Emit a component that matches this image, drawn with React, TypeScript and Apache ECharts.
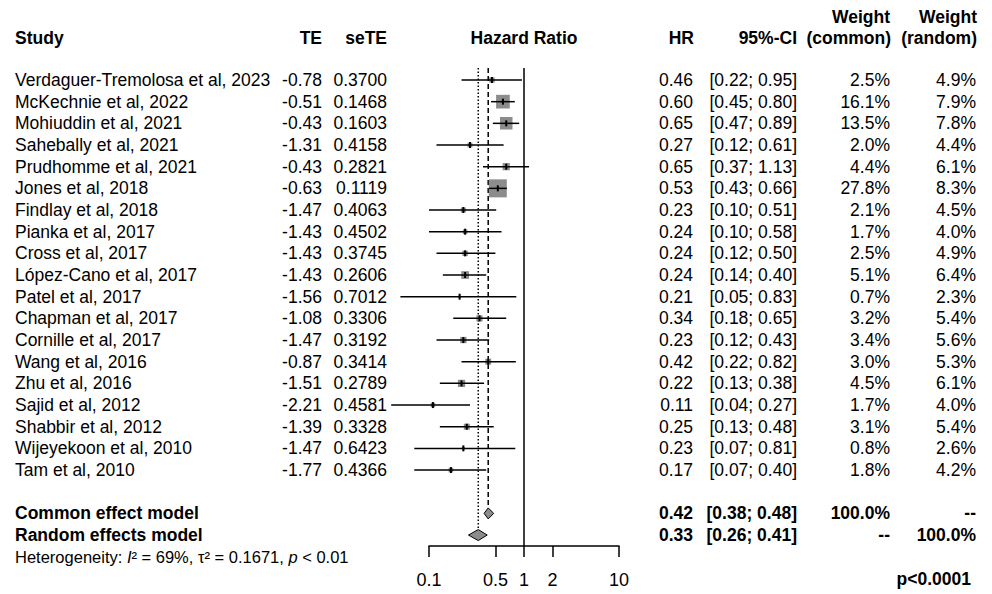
import React, { useEffect, useRef } from 'react';
import * as echarts from 'echarts';

const studies = [
  'Verdaguer-Tremolosa et al, 2023',
  'McKechnie et al, 2022',
  'Mohiuddin et al, 2021',
  'Sahebally et al, 2021',
  'Prudhomme et al, 2021',
  'Jones et al, 2018',
  'Findlay et al, 2018',
  'Pianka et al, 2017',
  'Cross et al, 2017',
  'López-Cano et al, 2017',
  'Patel et al, 2017',
  'Chapman et al, 2017',
  'Cornille et al, 2017',
  'Wang et al, 2016',
  'Zhu et al, 2016',
  'Sajid et al, 2012',
  'Shabbir et al, 2012',
  'Wijeyekoon et al, 2010',
  'Tam et al, 2010',
];
const teValues = ['-0.78', '-0.51', '-0.43', '-1.31', '-0.43', '-0.63', '-1.47', '-1.43', '-1.43', '-1.43', '-1.56', '-1.08', '-1.47', '-0.87', '-1.51', '-2.21', '-1.39', '-1.47', '-1.77'];
const seTEValues = ['0.3700', '0.1468', '0.1603', '0.4158', '0.2821', '0.1119', '0.4063', '0.4502', '0.3745', '0.2606', '0.7012', '0.3306', '0.3192', '0.3414', '0.2789', '0.4581', '0.3328', '0.6423', '0.4366'];
const hrValues = [0.46, 0.6, 0.65, 0.27, 0.65, 0.53, 0.23, 0.24, 0.24, 0.24, 0.21, 0.34, 0.23, 0.42, 0.22, 0.11, 0.25, 0.23, 0.17];
const ciLower = [0.22, 0.45, 0.47, 0.12, 0.37, 0.43, 0.1, 0.1, 0.12, 0.14, 0.05, 0.18, 0.12, 0.22, 0.13, 0.04, 0.13, 0.07, 0.07];
const ciUpper = [0.95, 0.8, 0.89, 0.61, 1.13, 0.66, 0.51, 0.58, 0.5, 0.4, 0.83, 0.65, 0.43, 0.82, 0.38, 0.27, 0.48, 0.81, 0.4];
const weightCommon = [2.5, 16.1, 13.5, 2.0, 4.4, 27.8, 2.1, 1.7, 2.5, 5.1, 0.7, 3.2, 3.4, 3.0, 4.5, 1.7, 3.1, 0.8, 1.8];
const weightRandom = [4.9, 7.9, 7.8, 4.4, 6.1, 8.3, 4.5, 4.0, 4.9, 6.4, 2.3, 5.4, 5.6, 5.3, 6.1, 4.0, 5.4, 2.6, 4.2];

const summaryNames = ['Common effect model', 'Random effects model'];
const summaryHR = [0.42, 0.33];
const summaryLower = [0.38, 0.26];
const summaryUpper = [0.48, 0.41];
const summaryWeightCommon = ['100.0%', '--'];
const summaryWeightRandom = ['--', '100.0%'];

const tickValues = [0.1, 0.5, 1, 2, 10];
const tickLabels = ['0.1', '0.5', '1', '2', '10'];

const FONT_FAMILY = "'Liberation Sans', Arial, Helvetica, sans-serif";
const FS = 17.5;
const HET_FS = 16.5;
const ROW_TOP = -0.554;
const ROW_BOTTOM = 21.505;
const SUMMARY_ROW0 = 20;

type Cell = { text: string; x: number | 'hr'; align: 'left' | 'right' | 'center'; bold?: boolean; rich?: boolean; size?: number };
type TableRow = { row: number; cells: Cell[] };

const fmt2 = (v: number) => v.toFixed(2);
const fmtCI = (lo: number, hi: number) => `[${lo.toFixed(2)}; ${hi.toFixed(2)}]`;

function buildTable(): TableRow[] {
  const rows: TableRow[] = [];
  rows.push({
    row: -2.92,
    cells: [
      { text: 'Weight', x: 890, align: 'right', bold: true },
      { text: 'Weight', x: 977, align: 'right', bold: true },
    ],
  });
  rows.push({
    row: -1.93,
    cells: [
      { text: 'Study', x: 15, align: 'left', bold: true },
      { text: 'TE', x: 322, align: 'right', bold: true },
      { text: 'seTE', x: 387, align: 'right', bold: true },
      { text: 'Hazard Ratio', x: 'hr', align: 'center', bold: true },
      { text: 'HR', x: 694, align: 'right', bold: true },
      { text: '95%-CI', x: 797, align: 'right', bold: true },
      { text: '(common)', x: 891, align: 'right', bold: true },
      { text: '(random)', x: 977, align: 'right', bold: true },
    ],
  });
  studies.forEach((s, i) => {
    rows.push({
      row: i,
      cells: [
        { text: s, x: 15, align: 'left' },
        { text: teValues[i], x: 322, align: 'right' },
        { text: seTEValues[i], x: 387, align: 'right' },
        { text: fmt2(hrValues[i]), x: 693, align: 'right' },
        { text: fmtCI(ciLower[i], ciUpper[i]), x: 797, align: 'right' },
        { text: weightCommon[i].toFixed(1) + '%', x: 890, align: 'right' },
        { text: weightRandom[i].toFixed(1) + '%', x: 976, align: 'right' },
      ],
    });
  });
  summaryNames.forEach((s, i) => {
    rows.push({
      row: SUMMARY_ROW0 + i,
      cells: [
        { text: s, x: 15, align: 'left', bold: true },
        { text: fmt2(summaryHR[i]), x: 693, align: 'right', bold: true },
        { text: fmtCI(summaryLower[i], summaryUpper[i]), x: 797, align: 'right', bold: true },
        { text: summaryWeightCommon[i], x: 890, align: 'right', bold: true },
        { text: summaryWeightRandom[i], x: 976, align: 'right', bold: true },
      ],
    });
  });
  rows.push({
    row: 22,
    cells: [
      {
        text: '{n|Heterogeneity: }{i|I}{n|² = 69%, τ² = 0.1671, }{i|p}{n| < 0.01}',
        x: 15,
        align: 'left',
        rich: true,
        size: HET_FS,
      },
    ],
  });
  rows.push({
    row: 23.05,
    cells: [{ text: 'p<0.0001', x: 971, align: 'right', bold: true }],
  });
  return rows;
}

export default function App() {
  const ref = useRef<HTMLDivElement>(null);
  useEffect(() => {
    if (!ref.current) return;
    const chart = echarts.init(ref.current, undefined, { renderer: 'svg' });
    const table = buildTable();
    const maxW = Math.max(...weightCommon);

    const option: any = {
      animation: false,
      backgroundColor: '#ffffff',
      grid: { left: 429, right: 373, top: 68, bottom: 48, show: false },
      xAxis: {
        type: 'log',
        logBase: 10,
        min: 0.1,
        max: 10,
        position: 'bottom',
        splitLine: { show: false },
        axisLine: { show: true, onZero: false, lineStyle: { color: '#000', width: 1.5 } },
        axisTick: {
          show: true,
          customValues: tickValues,
          length: 11,
          lineStyle: { color: '#000', width: 1.5 },
        },
        axisLabel: {
          show: true,
          customValues: tickValues,
          margin: 25,
          color: '#000',
          fontSize: 18,
          fontFamily: FONT_FAMILY,
          formatter: (v: number) => {
            let best = 0;
            tickValues.forEach((t, i) => {
              if (Math.abs(Math.log(t) - Math.log(v)) < Math.abs(Math.log(tickValues[best]) - Math.log(v))) best = i;
            });
            return tickLabels[best];
          },
        },
      },
      yAxis: {
        type: 'value',
        inverse: true,
        min: ROW_TOP,
        max: ROW_BOTTOM,
        show: false,
      },
      series: [
        {
          type: 'custom',
          name: 'reference lines',
          clip: false,
          silent: true,
          data: [[1, 0]],
          renderItem: (params: any, api: any) => {
            const top = api.coord([1, ROW_TOP])[1];
            const bottom = api.coord([1, ROW_BOTTOM])[1];
            const x1 = api.coord([1, 0])[0];
            const xc = api.coord([summaryHR[0], SUMMARY_ROW0]);
            const xr = api.coord([summaryHR[1], SUMMARY_ROW0 + 1]);
            return {
              type: 'group',
              children: [
                { type: 'line', shape: { x1, y1: top, x2: x1, y2: bottom }, style: { stroke: '#000', lineWidth: 1.5 } },
                { type: 'line', shape: { x1: xc[0], y1: top, x2: xc[0], y2: xc[1] - 6 }, style: { stroke: '#000', lineWidth: 1.5, lineDash: [5, 3] } },
                { type: 'line', shape: { x1: xr[0], y1: top, x2: xr[0], y2: xr[1] - 6 }, style: { stroke: '#000', lineWidth: 1.5, lineDash: [1.5, 2] } },
              ],
            };
          },
        },
        {
          type: 'custom',
          name: 'studies',
          clip: false,
          silent: true,
          encode: { x: [1, 2, 3], y: 0 },
          data: studies.map((_, i) => [i, hrValues[i], ciLower[i], ciUpper[i], weightCommon[i]]),
          renderItem: (params: any, api: any) => {
            const row = api.value(0);
            const est = api.value(1);
            const lo = api.value(2);
            const hi = api.value(3);
            const w = api.value(4);
            const [xe, y] = api.coord([est, row]);
            const xl = api.coord([lo, row])[0];
            const xh = api.coord([hi, row])[0];
            const side = 18 * Math.sqrt(w / maxW);
            return {
              type: 'group',
              children: [
                { type: 'rect', shape: { x: xe - side / 2, y: y - side / 2, width: side, height: side }, style: { fill: '#8c8c8c' } },
                { type: 'line', shape: { x1: xl, y1: y, x2: xh, y2: y }, style: { stroke: '#000', lineWidth: 1.5 } },
                { type: 'line', shape: { x1: xe, y1: y - 3, x2: xe, y2: y + 3 }, style: { stroke: '#000', lineWidth: 2 } },
              ],
            };
          },
        },
        {
          type: 'custom',
          name: 'summaries',
          clip: false,
          silent: true,
          encode: { x: [1, 2, 3], y: 0 },
          data: summaryNames.map((_, i) => [SUMMARY_ROW0 + i, summaryHR[i], summaryLower[i], summaryUpper[i]]),
          renderItem: (params: any, api: any) => {
            const row = api.value(0);
            const [xe, y] = api.coord([api.value(1), row]);
            const xl = api.coord([api.value(2), row])[0];
            const xh = api.coord([api.value(3), row])[0];
            const h = 5.5;
            return {
              type: 'polygon',
              shape: { points: [[xl, y], [xe, y - h], [xh, y], [xe, y + h]] },
              style: { fill: '#8c8c8c', stroke: '#000', lineWidth: 1 },
            };
          },
        },
        {
          type: 'custom',
          name: 'table',
          clip: false,
          silent: true,
          encode: { x: 0, y: 1 },
          data: table.map((r) => [1, r.row]),
          renderItem: (params: any, api: any) => {
            const tr = table[params.dataIndex];
            const [xhr, y] = api.coord([1, api.value(1)]);
            return {
              type: 'group',
              children: tr.cells.map((c) => {
                const size = c.size || FS;
                const font = `${c.bold ? 'bold ' : ''}${size}px ${FONT_FAMILY}`;
                const style: any = {
                  text: c.text,
                  x: c.x === 'hr' ? xhr : c.x,
                  y,
                  fill: '#000',
                  font,
                  fontSize: size,
                  fontFamily: FONT_FAMILY,
                  fontWeight: c.bold ? 'bold' : 'normal',
                  align: c.align,
                  verticalAlign: 'middle',
                  textAlign: c.align,
                  textVerticalAlign: 'middle',
                };
                if (c.rich) {
                  style.rich = {
                    n: { font: `${size}px ${FONT_FAMILY}`, fontSize: size, fontFamily: FONT_FAMILY, fill: '#000' },
                    i: { font: `italic ${size}px ${FONT_FAMILY}`, fontSize: size, fontFamily: FONT_FAMILY, fontStyle: 'italic', fill: '#000' },
                  };
                }
                return { type: 'text', style };
              }),
            };
          },
        },
      ],
    };
    chart.setOption(option);
    return () => chart.dispose();
  }, []);
  return <div ref={ref} style={{ position: 'absolute', left: 0, top: 0, width: 992, height: 594, background: '#fff' }} />;
}
